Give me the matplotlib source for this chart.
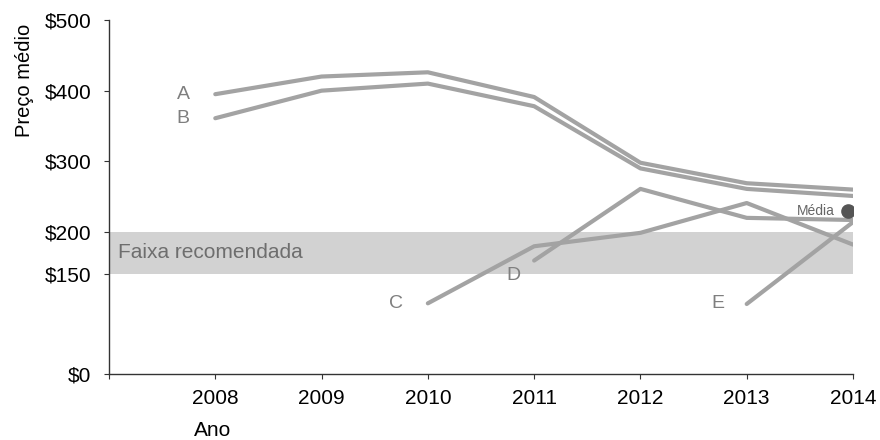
import numpy as np
import matplotlib.pyplot as plt

plt.rcParams['font.family'] = ['Liberation Sans', 'DejaVu Sans']

years = [2008, 2009, 2010, 2011, 2012, 2013, 2014]
serie_a = [395, 420, 426, 391, 298, 269, 260]
serie_b = [361, 400, 410, 378, 290, 261, 251]
years_c = [2010, 2011, 2012, 2013, 2014]
serie_c = [106, 183, 199, 241, 185]
years_d = [2011, 2012, 2013, 2014]
serie_d = [166, 261, 220, 217]
years_e = [2013, 2014]
serie_e = [105, 214]
faixa = (150, 200)
media = 230
yticks = [0, 150, 200, 300, 400, 500]
xticks = [2007, 2008, 2009, 2010, 2011, 2012, 2013, 2014]

# the y axis of the original is not linear below $200
scale_in = [0, 150, 200, 500]
scale_out = [0, 100, 142, 354]


def fwd(v):
    return np.interp(v, scale_in, scale_out)


def inv(p):
    return np.interp(p, scale_out, scale_in)


line_col = '#a3a3a3'
label_col = '#7f7f7f'

fig = plt.figure(figsize=(8.8, 4.4), dpi=100)
ax = fig.add_axes([109/880, 1 - 374/440, (853 - 109)/880, (374 - 20)/440])
ax.set_yscale('function', functions=(fwd, inv))

ax.axhspan(faixa[0], faixa[1], xmin=0, xmax=1, color='#d2d2d2', lw=0, zorder=0)
ax.text(2007.08, 176, 'Faixa recomendada', color='#6e6e6e',
        fontsize=15, va='center', ha='left')

series = [
    ('A', years, serie_a, (-23, 0)),
    ('B', years, serie_b, (-23, 0)),
    ('C', years_c, serie_c, (-23, 0)),
    ('D', years_d, serie_d, (-15, -11)),
    ('E', years_e, serie_e, (-21, 0)),
]
for name, xs, ys, off in series:
    ax.plot(xs, ys, color=line_col, lw=3, solid_capstyle='round',
            solid_joinstyle='round', zorder=2)
    ax.annotate(name, (xs[0], ys[0]), xytext=off, textcoords='offset points',
                ha='center', va='center', fontsize=14, color=label_col)

ax.plot([2013.95], [media], 'o', color='#555555', ms=9.5, zorder=3)
ax.annotate('Média', (2013.95, media), xytext=(-9, 0), textcoords='offset points',
            ha='right', va='center', fontsize=10, color='#666666')

ax.set_xlim(2007, 2014)
ax.set_ylim(0, 500)
ax.set_yticks(yticks)
ax.set_yticklabels(['$%d' % v for v in yticks])
ax.minorticks_off()
ax.set_xticks(xticks)
ax.set_xticklabels([''] + [str(y) for y in xticks[1:]])

for s in ['top', 'right']:
    ax.spines[s].set_visible(False)
for s in ['left', 'bottom']:
    ax.spines[s].set_color('#333333')
    ax.spines[s].set_linewidth(1)
ax.tick_params(axis='y', length=3.6, pad=9, labelsize=15, color='#333333')
ax.tick_params(axis='x', length=3.6, pad=7, labelsize=15, color='#333333')

fig.text(24/880, 1 - 80/440, 'Preço médio', rotation=90, ha='center', va='center',
         fontsize=14.5)
fig.text(213/880, 1 - 430/440, 'Ano', ha='center', va='center', fontsize=15)

fig.savefig('out.png', dpi=100)
